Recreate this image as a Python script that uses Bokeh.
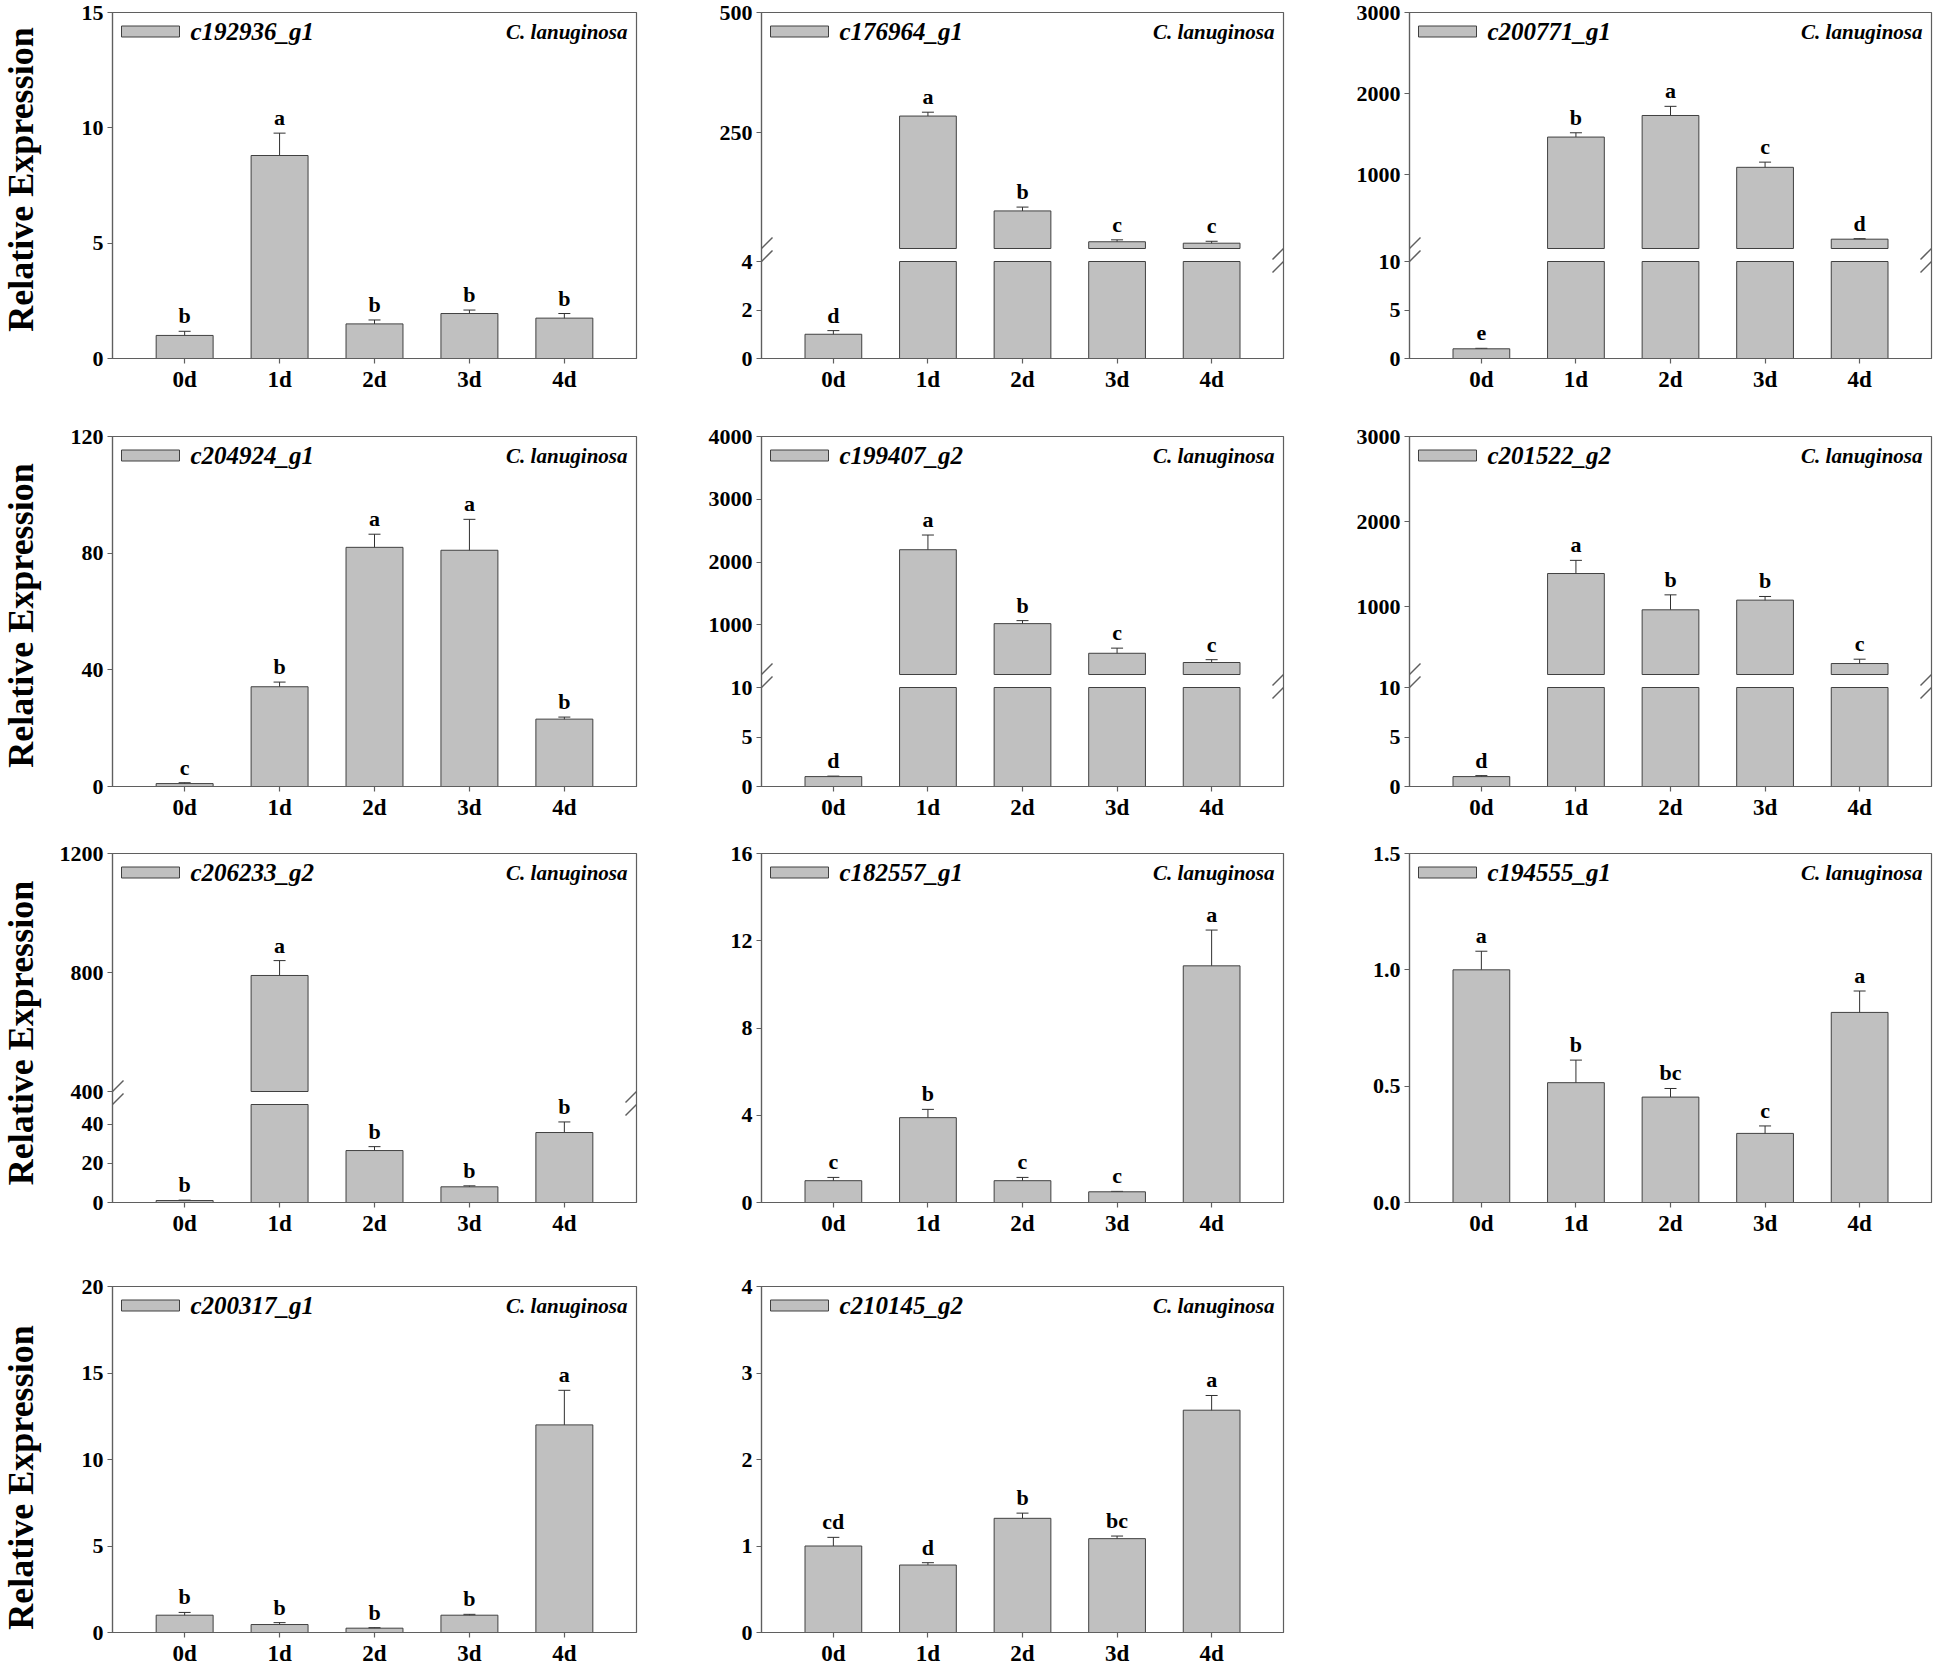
import math
from bokeh.plotting import figure
from bokeh.models import (Range1d, FixedTicker, Whisker, TeeHead, LabelSet, Label,
                          ColumnDataSource, Arrow, PrintfTickFormatter, BoxAnnotation)
from bokeh.layouts import column, row
from bokeh.core.properties import value
from bokeh.embed import file_html
from bokeh.resources import INLINE

# ---------------- data ----------------
days = ["0d", "1d", "2d", "3d", "4d"]
species = "C. lanuginosa"
y_title = "Relative Expression"

mean_c192936_g1 = [1.0, 8.8, 1.5, 1.95, 1.75]
err_c192936_g1 = [0.18, 0.97, 0.17, 0.15, 0.2]
sig_c192936_g1 = ["b", "a", "b", "b", "b"]

mean_c176964_g1 = [1.0, 285, 88, 24, 21]
err_c176964_g1 = [0.15, 8, 8, 4, 4]
sig_c176964_g1 = ["d", "a", "b", "c", "c"]

mean_c200771_g1 = [1.0, 1464, 1730, 1091, 205]
err_c200771_g1 = [0.05, 53, 113, 64, 6]
sig_c200771_g1 = ["e", "b", "a", "c", "d"]

mean_c204924_g1 = [1.0, 34.2, 82, 81, 23.1]
err_c204924_g1 = [0.3, 1.6, 4.5, 10.6, 0.7]
sig_c204924_g1 = ["c", "b", "a", "a", "b"]

mean_c199407_g2 = [1.0, 2197, 1020, 548, 401]
err_c199407_g2 = [0.05, 234, 48, 82, 45]
sig_c199407_g2 = ["d", "a", "b", "c", "c"]

mean_c201522_g2 = [1.0, 1388, 961, 1075, 329]
err_c201522_g2 = [0.1, 155, 176, 43, 51]
sig_c201522_g2 = ["d", "a", "b", "b", "c"]

mean_c206233_g2 = [1.0, 790, 26.5, 8.0, 35.7]
err_c206233_g2 = [0.2, 50, 2.0, 0.5, 5.4]
sig_c206233_g2 = ["b", "a", "b", "b", "b"]

mean_c182557_g1 = [1.0, 3.89, 1.0, 0.49, 10.85]
err_c182557_g1 = [0.15, 0.38, 0.15, 0.02, 1.64]
sig_c182557_g1 = ["c", "b", "c", "c", "a"]

mean_c194555_g1 = [1.0, 0.515, 0.453, 0.297, 0.817]
err_c194555_g1 = [0.08, 0.097, 0.037, 0.032, 0.092]
sig_c194555_g1 = ["a", "b", "bc", "c", "a"]

mean_c200317_g1 = [1.0, 0.46, 0.25, 1.0, 12.0]
err_c200317_g1 = [0.16, 0.11, 0.03, 0.05, 2.0]
sig_c200317_g1 = ["b", "b", "b", "b", "a"]

mean_c210145_g2 = [1.0, 0.78, 1.32, 1.085, 2.57]
err_c210145_g2 = [0.1, 0.027, 0.06, 0.03, 0.17]
sig_c210145_g2 = ["cd", "d", "b", "bc", "a"]

# axis definitions (linear, or broken into lower / upper segments)
axis_c192936_g1 = dict(kind="linear", top=15, ticks=[0, 5, 10, 15])
axis_c176964_g1 = dict(kind="broken", lo_top=4, lo_ticks=[0, 2, 4], up_bottom=10, up_top=500, up_ticks=[250, 500])
axis_c200771_g1 = dict(kind="broken", lo_top=10, lo_ticks=[0, 5, 10], up_bottom=90, up_top=3000, up_ticks=[1000, 2000, 3000])
axis_c204924_g1 = dict(kind="linear", top=120, ticks=[0, 40, 80, 120])
axis_c199407_g2 = dict(kind="broken", lo_top=10, lo_ticks=[0, 5, 10], up_bottom=210, up_top=4000, up_ticks=[1000, 2000, 3000, 4000])
axis_c201522_g2 = dict(kind="broken", lo_top=10, lo_ticks=[0, 5, 10], up_bottom=200, up_top=3000, up_ticks=[1000, 2000, 3000])
axis_c206233_g2 = dict(kind="broken", lo_top=50, lo_ticks=[0, 20, 40], up_bottom=400, up_top=1200, up_ticks=[400, 800, 1200])
axis_c182557_g1 = dict(kind="linear", top=16, ticks=[0, 4, 8, 12, 16])
axis_c194555_g1 = dict(kind="linear", top=1.5, ticks=[0, 0.5, 1.0, 1.5], fmt="%.1f")
axis_c200317_g1 = dict(kind="linear", top=20, ticks=[0, 5, 10, 15, 20])
axis_c210145_g2 = dict(kind="linear", top=4, ticks=[0, 1, 2, 3, 4])

panels = [
    [("c192936_g1", mean_c192936_g1, err_c192936_g1, sig_c192936_g1, axis_c192936_g1),
     ("c176964_g1", mean_c176964_g1, err_c176964_g1, sig_c176964_g1, axis_c176964_g1),
     ("c200771_g1", mean_c200771_g1, err_c200771_g1, sig_c200771_g1, axis_c200771_g1)],
    [("c204924_g1", mean_c204924_g1, err_c204924_g1, sig_c204924_g1, axis_c204924_g1),
     ("c199407_g2", mean_c199407_g2, err_c199407_g2, sig_c199407_g2, axis_c199407_g2),
     ("c201522_g2", mean_c201522_g2, err_c201522_g2, sig_c201522_g2, axis_c201522_g2)],
    [("c206233_g2", mean_c206233_g2, err_c206233_g2, sig_c206233_g2, axis_c206233_g2),
     ("c182557_g1", mean_c182557_g1, err_c182557_g1, sig_c182557_g1, axis_c182557_g1),
     ("c194555_g1", mean_c194555_g1, err_c194555_g1, sig_c194555_g1, axis_c194555_g1)],
    [("c200317_g1", mean_c200317_g1, err_c200317_g1, sig_c200317_g1, axis_c200317_g1),
     ("c210145_g2", mean_c210145_g2, err_c210145_g2, sig_c210145_g2, axis_c210145_g2)],
]

# ---------------- layout / style ----------------
LABEL_W = 44
FW = [524, 522, 522]
BL = [68, 63, 63]
BR = [62, 63, 11]
FH = [346, 350, 349, 346]
BT = [12, 22, 23, 36]
BB = [56, 44, 48, 34]
X0, X1 = -0.76, 4.76
AX = "#5f5f5f"
BAR_FILL = "#c0c0c0"
BAR_LINE = "#404040"
ERR = "#303030"
FONT = "Liberation Serif"
YTICK_SIZE = "22px"
XTICK_SIZE = "23px"
LET_SIZE = "22px"
GENE_SIZE = "25px"
SPEC_SIZE = "21px"
KEY_DY = 19  # distance of the key row below the frame top


def style_axis(ax, size):
    ax.axis_line_color = AX
    ax.axis_line_width = 1.2
    ax.major_tick_line_color = AX
    ax.major_tick_line_width = 1.2
    ax.major_tick_out = 5
    ax.major_tick_in = 0
    ax.minor_tick_line_color = None
    ax.major_label_text_font = FONT
    ax.major_label_text_font_style = "bold"
    ax.major_label_text_font_size = size
    ax.major_label_text_color = "black"
    ax.major_label_standoff = 4


def add_err_and_letters(p, xs, vals, errs, sigs, range_name):
    if not xs:
        return
    src = ColumnDataSource(dict(x=xs, upper=[v + e for v, e in zip(vals, errs)],
                                lower=[v - e for v, e in zip(vals, errs)], sig=sigs))
    w = Whisker(base="x", upper="upper", lower="lower", source=src, y_range_name=range_name,
                line_color=ERR, line_width=1,
                upper_head=TeeHead(size=12, line_color=ERR, line_width=1),
                lower_head=TeeHead(size=12, line_color=ERR, line_width=1))
    p.add_layout(w)
    ls = LabelSet(x="x", y="upper", text="sig", source=src, y_range_name=range_name,
                  y_offset=8, text_align="center", text_baseline="alphabetic",
                  text_font=value(FONT), text_font_style="bold", text_font_size=LET_SIZE,
                  text_color="black")
    p.add_layout(ls)


def make_panel(gene, means, errs, sigs, axis, r, c):
    fw, fh = FW[c], FH[r]
    p = figure(frame_width=fw, frame_height=fh, x_range=Range1d(X0, X1),
               tools="", toolbar_location=None, output_backend="svg",
               min_border_left=BL[c], min_border_right=BR[c],
               min_border_top=BT[r], min_border_bottom=BB[r])
    p.xgrid.visible = False
    p.ygrid.visible = False
    p.outline_line_color = AX
    p.outline_line_width = 1.2
    p.background_fill_color = "white"
    p.border_fill_color = "white"

    xs = list(range(len(days)))
    p.xaxis.ticker = FixedTicker(ticks=xs)
    p.xaxis.major_label_overrides = {i: d for i, d in enumerate(days)}
    style_axis(p.xaxis[0], XTICK_SIZE)
    style_axis(p.yaxis[0], YTICK_SIZE)
    p.xaxis[0].major_label_standoff = 3

    if axis["kind"] == "linear":
        p.y_range = Range1d(0, axis["top"])
        p.yaxis[0].ticker = FixedTicker(ticks=axis["ticks"])
        if "fmt" in axis:
            p.yaxis[0].formatter = PrintfTickFormatter(format=axis["fmt"])
        p.vbar(x=xs, top=means, bottom=0, width=0.6, fill_color=BAR_FILL,
               line_color=BAR_LINE, line_width=1)
        add_err_and_letters(p, xs, means, errs, sigs, "default")
    else:
        lo_top, up_bot, up_top = axis["lo_top"], axis["up_bottom"], axis["up_top"]
        lo_px = round(fh * 98 / 348)
        gap = 13
        up_px = fh - lo_px - gap
        lo_end = lo_top * fh / lo_px
        p.y_range = Range1d(0, lo_end)
        s = (up_top - up_bot) / up_px
        up_start = up_bot - (lo_px + gap) * s
        p.extra_y_ranges = {"up": Range1d(up_start, up_top)}
        # one axis carrying the ticks of both segments
        up_pos = [(t - up_start) / (up_top - up_start) * lo_end for t in axis["up_ticks"]]
        p.yaxis[0].ticker = FixedTicker(ticks=list(axis["lo_ticks"]) + up_pos)
        p.yaxis[0].major_label_overrides = {pos: str(t) for pos, t in zip(up_pos, axis["up_ticks"])}

        lo_tops = [min(v, lo_top) for v in means]
        p.vbar(x=xs, top=lo_tops, bottom=0, width=0.6, fill_color=BAR_FILL,
               line_color=BAR_LINE, line_width=1)
        big = [i for i, v in enumerate(means) if v > lo_top]
        small = [i for i, v in enumerate(means) if v <= lo_top]
        p.vbar(x=[xs[i] for i in big], top=[means[i] for i in big], bottom=up_bot, width=0.6,
               fill_color=BAR_FILL, line_color=BAR_LINE, line_width=1, y_range_name="up")
        add_err_and_letters(p, [xs[i] for i in small], [means[i] for i in small],
                            [errs[i] for i in small], [sigs[i] for i in small], "default")
        add_err_and_letters(p, [xs[i] for i in big], [means[i] for i in big],
                            [errs[i] for i in big], [sigs[i] for i in big], "up")

        # break marks "//" on both vertical edges
        dx = 11 * (X1 - X0) / fw
        dy_lo = 11 * lo_end / fh
        dy_up = 11 * s
        for xx in (X0, X1):
            p.add_layout(Arrow(end=None, x_start=xx - dx, y_start=lo_top - dy_lo,
                               x_end=xx + dx, y_end=lo_top + dy_lo,
                               line_color=AX, line_width=1.5))
            p.add_layout(Arrow(end=None, x_start=xx - dx, y_start=up_bot - dy_up,
                               x_end=xx + dx, y_end=up_bot + dy_up,
                               line_color=AX, line_width=1.5, y_range_name="up"))

    # key: swatch + gene name, species at the right
    p.add_layout(BoxAnnotation(left=9, right=67, top=fh - KEY_DY + 5.5, bottom=fh - KEY_DY - 5.5,
                               left_units="screen", right_units="screen",
                               top_units="screen", bottom_units="screen",
                               fill_color=BAR_FILL, fill_alpha=1.0,
                               line_color=BAR_LINE, line_width=1, line_alpha=1.0))
    p.add_layout(Label(x=78, y=fh - KEY_DY, x_units="screen", y_units="screen", text=gene,
                       text_align="left", text_baseline="middle", text_font=FONT,
                       text_font_style="bold italic", text_font_size=GENE_SIZE,
                       text_color="black"))
    p.add_layout(Label(x=fw - 9, y=fh - KEY_DY, x_units="screen", y_units="screen", text=species,
                       text_align="right", text_baseline="middle", text_font=FONT,
                       text_font_style="bold italic", text_font_size=SPEC_SIZE,
                       text_color="black"))
    return p


def make_ylabel(r):
    h = BT[r] + FH[r] + BB[r]
    p = figure(frame_width=LABEL_W, frame_height=h, x_range=Range1d(0, LABEL_W),
               y_range=Range1d(0, h), tools="", toolbar_location=None, output_backend="svg",
               x_axis_location=None, y_axis_location=None, min_border=0)
    p.xgrid.visible = False
    p.ygrid.visible = False
    p.outline_line_color = None
    p.add_layout(Label(x=20, y=BB[r] + FH[r] / 2 + 18, text=y_title, angle=math.pi / 2,
                       text_align="center", text_baseline="middle", text_font=FONT,
                       text_font_style="bold", text_font_size="36px", text_color="black"))
    return p


rows = []
for r, prow in enumerate(panels):
    figs = [make_ylabel(r)] + [make_panel(g, m, e, sg, ax, r, c)
                               for c, (g, m, e, sg, ax) in enumerate(prow)]
    rows.append(row(*figs, spacing=0))
layout = column(*rows, spacing=0)

open("out.html", "w").write(file_html(layout, INLINE))
